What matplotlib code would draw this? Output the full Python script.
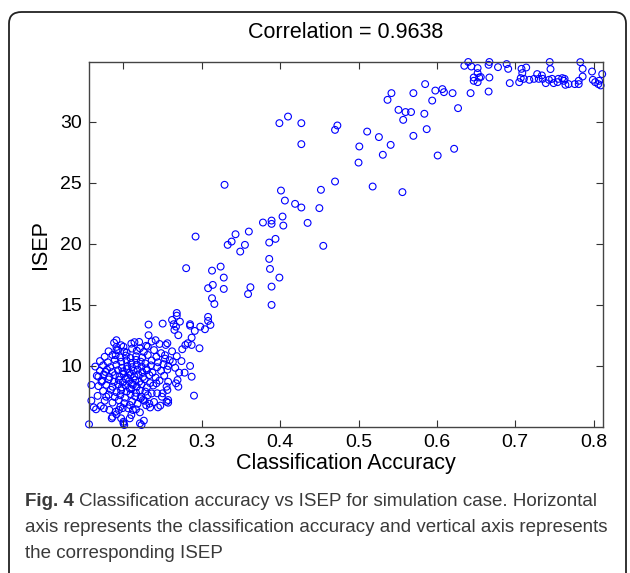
import matplotlib
matplotlib.use("Agg")
import matplotlib.pyplot as plt
from matplotlib import font_manager
from matplotlib.patches import FancyBboxPatch

# classification accuracy / ISEP pairs
top_acc = [0.635, 0.640, 0.644, 0.652, 0.652, 0.647, 0.647, 0.654, 0.652, 0.656, 0.667, 0.666, 0.678,
           0.689, 0.691, 0.667, 0.693, 0.708, 0.714, 0.709, 0.707, 0.711, 0.718, 0.724, 0.705, 0.728,
           0.734, 0.735, 0.730, 0.744, 0.745, 0.739, 0.743, 0.749, 0.747, 0.754, 0.755, 0.760, 0.762,
           0.764, 0.768, 0.763, 0.783, 0.786, 0.786, 0.781, 0.781, 0.776, 0.798, 0.799, 0.802, 0.807,
           0.809, 0.811, 0.806]
top_isep = [34.59, 34.90, 34.53, 34.40, 33.99, 33.63, 33.36, 33.63, 33.25, 33.67, 34.90, 34.67, 34.48,
            34.73, 34.34, 33.63, 33.17, 34.34, 34.45, 33.99, 33.58, 33.52, 33.44, 33.52, 33.25, 33.91,
            33.80, 33.52, 33.52, 34.90, 34.32, 33.17, 33.44, 33.17, 33.52, 33.25, 33.52, 33.58, 33.36,
            33.03, 33.09, 33.52, 34.89, 34.34, 33.71, 33.36, 33.09, 33.09, 34.12, 33.44, 33.25, 33.36,
            32.98, 33.91, 33.09]

upper_acc = [0.399, 0.410, 0.427, 0.427, 0.470, 0.473, 0.511, 0.526, 0.501, 0.541, 0.531, 0.500, 0.570,
             0.587, 0.601, 0.518, 0.556, 0.622, 0.585, 0.594, 0.570, 0.542, 0.537, 0.551, 0.560, 0.567,
             0.557, 0.584, 0.598, 0.607, 0.609, 0.620, 0.627, 0.643, 0.666]
upper_isep = [29.89, 30.43, 29.89, 28.17, 29.34, 29.70, 29.20, 28.75, 27.98, 28.11, 27.30, 26.66, 28.85,
              29.40, 27.24, 24.70, 24.24, 27.79, 33.09, 31.74, 32.35, 32.35, 31.80, 30.98, 30.80, 30.80,
              30.16, 30.66, 32.56, 32.68, 32.43, 32.35, 31.12, 32.35, 32.48]

mid_acc = [0.329, 0.292, 0.280, 0.333, 0.338, 0.343, 0.355, 0.349, 0.360, 0.378, 0.313, 0.324, 0.328,
           0.314, 0.308, 0.328, 0.362, 0.359, 0.313, 0.316, 0.401, 0.406, 0.419, 0.427, 0.450, 0.403,
           0.404, 0.389, 0.389, 0.435, 0.394, 0.386, 0.455, 0.386, 0.387, 0.399, 0.389, 0.389, 0.470,
           0.452]
mid_isep = [24.84, 20.60, 18.01, 19.92, 20.19, 20.79, 19.92, 19.37, 21.01, 21.75, 17.81, 18.14, 17.24,
            16.64, 16.37, 16.31, 16.45, 15.89, 15.55, 15.08, 24.37, 23.55, 23.28, 22.98, 22.93, 22.24,
            21.50, 21.91, 21.64, 21.72, 20.41, 20.11, 19.84, 18.77, 17.95, 17.24, 16.50, 15.00, 25.11,
            24.43]

edge_acc = [0.232, 0.250, 0.262, 0.268, 0.264, 0.267, 0.272, 0.265, 0.285, 0.285, 0.291, 0.287, 0.287,
            0.279, 0.282, 0.298, 0.304, 0.308, 0.311, 0.297, 0.275, 0.270, 0.232, 0.241, 0.254, 0.256,
            0.231, 0.191, 0.191, 0.191, 0.190, 0.210, 0.211, 0.220, 0.200, 0.201, 0.221, 0.259, 0.263,
            0.271, 0.278, 0.285, 0.287, 0.290, 0.269, 0.267, 0.270, 0.257, 0.255, 0.256, 0.250, 0.249,
            0.257, 0.244, 0.247, 0.242, 0.243, 0.159, 0.168, 0.172, 0.177, 0.159, 0.162, 0.165, 0.171,
            0.175, 0.178, 0.156, 0.185, 0.186, 0.190, 0.191, 0.197, 0.200, 0.208, 0.210, 0.221, 0.226,
            0.223, 0.196, 0.194, 0.206, 0.208, 0.212, 0.223, 0.225, 0.229, 0.233, 0.253, 0.257, 0.255,
            0.200, 0.201, 0.268, 0.308]
edge_isep = [13.39, 13.47, 13.77, 14.12, 13.42, 13.22, 13.63, 12.95, 13.42, 13.30, 12.87, 12.32, 11.72,
             11.72, 11.86, 13.22, 13.01, 13.69, 13.36, 11.45, 11.37, 12.52, 12.52, 12.11, 11.72, 11.86,
             11.58, 12.11, 11.56, 11.29, 10.88, 11.83, 11.42, 11.97, 11.58, 11.17, 11.45, 10.47, 10.33,
             9.45, 9.45, 10.00, 9.12, 7.57, 8.85, 8.58, 8.30, 8.71, 8.30, 8.03, 7.76, 7.48,
             6.99, 6.61, 6.75, 8.58, 7.76, 8.44, 9.12, 8.71, 9.51, 7.16, 6.61, 6.45, 6.72,
             6.53, 7.48, 5.22, 5.71, 5.84, 6.25, 6.04, 5.71, 5.43, 5.71, 5.98, 5.30, 5.52,
             5.16, 6.66, 6.39, 6.53, 6.80, 6.39, 7.48, 7.21, 6.78, 6.91, 10.88, 7.21, 7.07,
             5.30, 5.16, 14.34, 14.02]

# dense core around 0.21 / 9
core_acc = [0.188, 0.197, 0.214, 0.229, 0.236, 0.246,
            0.181, 0.193, 0.204, 0.217, 0.226, 0.239, 0.248, 0.262,
            0.176, 0.186, 0.196, 0.203, 0.209, 0.216, 0.224, 0.231, 0.242, 0.253, 0.268,
            0.170, 0.180, 0.189, 0.197, 0.204, 0.210, 0.216, 0.222, 0.228, 0.236, 0.244, 0.251, 0.274,
            0.164, 0.174, 0.183, 0.191, 0.198, 0.205, 0.211, 0.217, 0.223, 0.229, 0.235, 0.243, 0.257, 0.266,
            0.170, 0.179, 0.186, 0.193, 0.199, 0.204, 0.208, 0.213, 0.218, 0.224, 0.230, 0.237, 0.248, 0.256,
            0.166, 0.175, 0.182, 0.189, 0.195, 0.200, 0.205, 0.209, 0.214, 0.219, 0.225, 0.233, 0.241, 0.252,
            0.173, 0.181, 0.188, 0.194, 0.199, 0.203, 0.207, 0.211, 0.215, 0.220, 0.227, 0.234, 0.246,
            0.168, 0.178, 0.186, 0.193, 0.198, 0.203, 0.208, 0.212, 0.217, 0.223, 0.230, 0.238,
            0.174, 0.184, 0.191, 0.197, 0.204, 0.210, 0.216, 0.221, 0.228, 0.236,
            0.167, 0.181, 0.189, 0.196, 0.202, 0.209, 0.215, 0.222, 0.231,
            0.176, 0.186, 0.194, 0.201, 0.211, 0.218, 0.227, 0.239,
            0.182, 0.199, 0.216, 0.221, 0.234]
core_isep = [11.90, 11.70, 11.95, 11.65, 12.00, 11.80,
             11.20, 11.30, 11.10, 11.25, 11.15, 11.30, 11.05, 11.20,
             10.75, 10.90, 10.70, 10.85, 10.65, 10.80, 10.70, 10.90, 10.75, 10.60, 10.80,
             10.40, 10.30, 10.50, 10.35, 10.45, 10.25, 10.50, 10.35, 10.20, 10.45, 10.30, 10.15, 10.40,
             9.95, 10.05, 9.90, 10.10, 9.85, 10.00, 9.90, 10.10, 9.95, 9.80, 10.05, 9.90, 10.00, 9.85,
             9.60, 9.70, 9.50, 9.65, 9.55, 9.75, 9.45, 9.60, 9.70, 9.50, 9.65, 9.45, 9.60, 9.70,
             9.20, 9.30, 9.10, 9.25, 9.15, 9.35, 9.05, 9.25, 9.15, 9.30, 9.10, 9.25, 9.05, 9.20,
             8.80, 8.90, 8.70, 8.85, 8.65, 8.95, 8.75, 8.55, 8.85, 8.70, 8.90, 8.60, 8.80,
             8.35, 8.45, 8.30, 8.50, 8.25, 8.40, 8.15, 8.45, 8.30, 8.50, 8.25, 8.40,
             7.95, 8.05, 7.85, 8.00, 7.90, 8.10, 7.80, 8.00, 7.90, 7.75,
             7.55, 7.65, 7.45, 7.60, 7.40, 7.70, 7.50, 7.35, 7.60,
             7.15, 7.00, 7.20, 6.95, 7.10, 6.90, 7.15, 7.05,
             6.40, 6.55, 6.45, 6.20, 6.60]

acc = top_acc + upper_acc + mid_acc + edge_acc + core_acc
isep = top_isep + upper_isep + mid_isep + edge_isep + core_isep

x_ticks = [0.2, 0.3, 0.4, 0.5, 0.6, 0.7, 0.8]
y_ticks = [10, 15, 20, 25, 30]

installed = {f.name for f in font_manager.fontManager.ttflist}
cap_font = 'Liberation Sans Narrow' if 'Liberation Sans Narrow' in installed else 'Liberation Sans'

W, H = 630, 573
fig = plt.figure(figsize=(W / 100, H / 100), dpi=100)

# rounded frame around the whole figure
frame = FancyBboxPatch((9 / W, -20 / H), 617 / W, (H - 12 + 20) / H,
                       boxstyle="round,pad=0,rounding_size=0.02",
                       transform=fig.transFigure, fill=False, lw=1.3, ec='#222222')
fig.patches.append(frame)

ax = fig.add_axes([89 / W, (H - 427) / H, 514 / W, 365 / H])
ax.scatter(acc, isep, s=24, facecolors='none', edgecolors='#0000ff', linewidths=0.8, clip_on=False)
ax.set_xlim(0.156, 0.812)
ax.set_ylim(5.0, 34.9)
ax.set_xticks(x_ticks)
ax.set_xticklabels([str(t) for t in x_ticks])
ax.set_yticks(y_ticks)
ax.tick_params(direction='in', length=5, top=True, right=True, labelsize=14, pad=5, color='#333333')
for lab in ax.get_xticklabels() + ax.get_yticklabels():
    lab.set_fontfamily('Liberation Sans')
for sp in ax.spines.values():
    sp.set_color('#444444')
    sp.set_linewidth(1.0)

fig.text((89 + 603) / 2 / W, 1 - 32 / H, 'Correlation = 0.9638', ha='center', va='center',
         fontsize=15.5, family='Liberation Sans')
fig.text((89 + 603) / 2 / W, 1 - 463 / H, 'Classification Accuracy', ha='center', va='center',
         fontsize=15.5, family='Liberation Sans')
fig.text(40 / W, (H - 245) / H, 'ISEP', rotation=90, ha='center', va='center',
         fontsize=15.5, family='Liberation Sans')

# caption
cap_color = '#3a3a3a'
t1 = fig.text(25 / W, 1 - 502 / H, 'Fig. 4', ha='left', va='center', fontsize=13.5,
              fontweight='bold', family=cap_font, color=cap_color)
fig.canvas.draw()
bb = t1.get_window_extent()
fig.text((bb.x1 + 5) / W, 1 - 502 / H,
         'Classification accuracy vs ISEP for simulation case. Horizontal',
         ha='left', va='center', fontsize=13.5, family=cap_font, color=cap_color)
fig.text(25 / W, 1 - 527 / H,
         'axis represents the classification accuracy and vertical axis represents',
         ha='left', va='center', fontsize=13.5, family=cap_font, color=cap_color)
fig.text(25 / W, 1 - 553 / H, 'the corresponding ISEP',
         ha='left', va='center', fontsize=13.5, family=cap_font, color=cap_color)

fig.savefig('out.png', dpi=100)
